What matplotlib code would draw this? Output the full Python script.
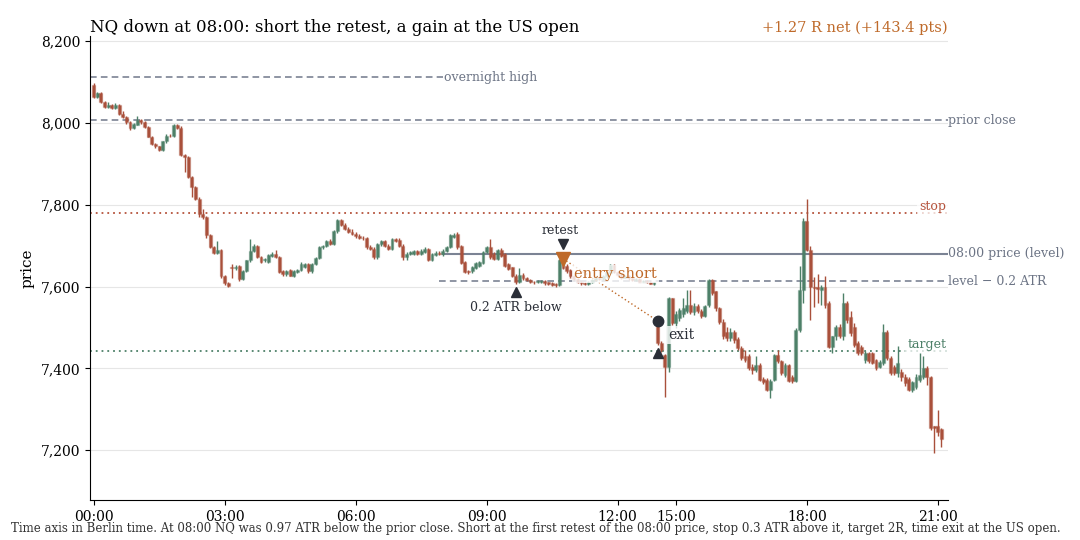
import numpy as np
import pandas as pd
import matplotlib
matplotlib.use("Agg")
import matplotlib.pyplot as plt
from matplotlib.ticker import FuncFormatter

# NQ 5-minute bars, Berlin time (no bars between 12:45 and 14:30)
opens = [8094, 8063, 8073, 8052, 8040, 8045, 8037, 8044, 8022, 8016, 8002, 7988, 7996, 8008, 8002, 7990, 7967, 7948, 7943, 7934,
         7955, 7969, 7968, 7994, 7989, 7922, 7917, 7868, 7843, 7815, 7778, 7770, 7725, 7697, 7683, 7690, 7627, 7609, 7648, 7646,
         7651, 7619, 7639, 7664, 7688, 7700, 7672, 7664, 7660, 7676, 7680, 7672, 7637, 7630, 7640, 7627, 7636, 7641, 7649, 7655,
         7637, 7655, 7670, 7696, 7699, 7712, 7705, 7735, 7763, 7750, 7742, 7734, 7729, 7724, 7720, 7718, 7696, 7693, 7672, 7704,
         7711, 7700, 7692, 7716, 7714, 7700, 7672, 7680, 7680, 7686, 7680, 7684, 7692, 7665, 7678, 7683, 7680, 7688, 7696, 7722,
         7729, 7700, 7660, 7639, 7637, 7645, 7650, 7657, 7684, 7696, 7680, 7668, 7690, 7680, 7654, 7647, 7625, 7611, 7628, 7620,
         7616, 7611, 7610, 7611, 7613, 7610, 7608, 7606, 7604, 7664, 7650, 7640, 7625, 7618, 7612, 7608, 7606, 7611, 7615, 7622,
         7618, 7625, 7632, 7652, 7635, 7628, 7622, 7626, 7620, 7616, 7618, 7612, 7614, 7611, 7607, 7508, 7462, 7433, 7404, 7571,
         7512, 7522, 7532, 7540, 7555, 7538, 7552, 7540, 7528, 7555, 7616, 7588, 7547, 7514, 7490, 7473, 7490, 7471, 7449, 7429,
         7429, 7404, 7396, 7408, 7373, 7371, 7347, 7372, 7433, 7417, 7384, 7408, 7380, 7368, 7494, 7592, 7760, 7690, 7600, 7598,
         7592, 7600, 7559, 7453, 7478, 7502, 7478, 7559, 7525, 7500, 7461, 7453, 7420, 7437, 7437, 7420, 7404, 7412, 7490, 7425,
         7404, 7388, 7392, 7380, 7375, 7347, 7355, 7371, 7380, 7400, 7380, 7258, 7258, 7251]
highs = [8097, 8076, 8075, 8054, 8052, 8047, 8049, 8046, 8030, 8018, 8004, 8000, 8018, 8010, 8004, 7992, 7969, 7950, 7945, 7957,
         7972, 7972, 7997, 7998, 7993, 7925, 7920, 7870, 7846, 7818, 7790, 7772, 7728, 7700, 7712, 7692, 7629, 7611, 7655, 7652,
         7653, 7641, 7666, 7716, 7703, 7702, 7675, 7670, 7680, 7684, 7690, 7675, 7640, 7640, 7642, 7641, 7644, 7660, 7658, 7658,
         7658, 7673, 7699, 7702, 7715, 7716, 7738, 7766, 7765, 7755, 7746, 7740, 7733, 7728, 7724, 7722, 7702, 7696, 7706, 7714,
         7714, 7705, 7720, 7720, 7718, 7703, 7684, 7688, 7690, 7690, 7693, 7696, 7695, 7683, 7686, 7687, 7692, 7699, 7728, 7731,
         7733, 7702, 7662, 7641, 7650, 7660, 7663, 7687, 7699, 7716, 7684, 7693, 7694, 7683, 7657, 7649, 7631, 7645, 7632, 7624,
         7619, 7614, 7616, 7617, 7615, 7612, 7610, 7608, 7668, 7684, 7656, 7643, 7628, 7620, 7614, 7610, 7613, 7618, 7625, 7624,
         7628, 7638, 7655, 7654, 7638, 7630, 7629, 7628, 7622, 7621, 7620, 7617, 7616, 7613, 7612, 7510, 7466, 7436, 7575, 7573,
         7540, 7548, 7571, 7592, 7592, 7560, 7558, 7545, 7556, 7618, 7618, 7590, 7550, 7520, 7500, 7498, 7495, 7476, 7455, 7445,
         7435, 7410, 7430, 7412, 7378, 7376, 7375, 7435, 7445, 7420, 7412, 7410, 7384, 7498, 7650, 7768, 7813, 7700, 7624, 7630,
         7605, 7625, 7565, 7480, 7506, 7508, 7585, 7565, 7540, 7512, 7466, 7458, 7442, 7440, 7440, 7424, 7420, 7508, 7495, 7430,
         7408, 7455, 7398, 7385, 7378, 7370, 7385, 7438, 7430, 7405, 7382, 7258, 7298, 7255]
lows = [8062, 8061, 8050, 8038, 8038, 8035, 8035, 8020, 8012, 7998, 7982, 7985, 7994, 7998, 7988, 7965, 7946, 7940, 7931, 7931,
        7952, 7965, 7965, 7986, 7920, 7880, 7865, 7818, 7812, 7770, 7765, 7720, 7694, 7680, 7680, 7622, 7605, 7600, 7620, 7640,
        7614, 7616, 7636, 7660, 7685, 7670, 7658, 7660, 7657, 7672, 7670, 7632, 7627, 7627, 7625, 7624, 7634, 7638, 7646, 7634,
        7634, 7652, 7667, 7693, 7696, 7702, 7702, 7732, 7748, 7738, 7730, 7725, 7720, 7716, 7715, 7692, 7690, 7668, 7668, 7700,
        7698, 7690, 7690, 7709, 7698, 7664, 7664, 7677, 7678, 7677, 7678, 7682, 7662, 7662, 7675, 7677, 7676, 7685, 7694, 7718,
        7692, 7654, 7632, 7631, 7634, 7642, 7647, 7654, 7681, 7668, 7665, 7665, 7673, 7648, 7640, 7624, 7607, 7609, 7617, 7613,
        7608, 7607, 7608, 7609, 7605, 7603, 7601, 7600, 7602, 7642, 7633, 7622, 7615, 7609, 7605, 7603, 7604, 7609, 7613, 7615,
        7616, 7622, 7630, 7633, 7625, 7619, 7620, 7617, 7613, 7614, 7610, 7610, 7608, 7606, 7605, 7458, 7440, 7330, 7390, 7505,
        7498, 7515, 7525, 7535, 7532, 7530, 7535, 7522, 7525, 7550, 7580, 7540, 7508, 7472, 7468, 7466, 7462, 7444, 7420, 7415,
        7396, 7385, 7392, 7368, 7362, 7344, 7327, 7368, 7412, 7384, 7380, 7366, 7365, 7366, 7490, 7560, 7688, 7518, 7551, 7560,
        7555, 7548, 7450, 7437, 7470, 7474, 7470, 7512, 7480, 7452, 7432, 7432, 7412, 7414, 7410, 7395, 7400, 7408, 7420, 7384,
        7384, 7380, 7370, 7356, 7345, 7343, 7350, 7366, 7375, 7360, 7250, 7192, 7235, 7208]
closes = [8063, 8073, 8052, 8040, 8045, 8037, 8044, 8022, 8016, 8002, 7988, 7998, 8008, 8002, 7990, 7967, 7948, 7943, 7934, 7955,
          7969, 7968, 7994, 7989, 7922, 7917, 7868, 7843, 7815, 7778, 7770, 7725, 7697, 7683, 7690, 7627, 7609, 7602, 7646, 7648,
          7619, 7639, 7664, 7688, 7700, 7672, 7660, 7668, 7678, 7680, 7672, 7635, 7630, 7638, 7627, 7639, 7641, 7655, 7655, 7637,
          7655, 7670, 7696, 7699, 7712, 7705, 7735, 7763, 7750, 7742, 7734, 7729, 7724, 7720, 7718, 7696, 7693, 7672, 7704, 7711,
          7700, 7692, 7716, 7711, 7700, 7672, 7680, 7684, 7686, 7680, 7688, 7692, 7665, 7680, 7683, 7680, 7688, 7696, 7725, 7727,
          7696, 7657, 7636, 7635, 7647, 7657, 7660, 7684, 7696, 7672, 7668, 7690, 7676, 7651, 7643, 7627, 7611, 7628, 7620, 7616,
          7611, 7610, 7613, 7614, 7608, 7606, 7604, 7603, 7664, 7645, 7637, 7625, 7618, 7612, 7608, 7606, 7611, 7615, 7622, 7618,
          7625, 7636, 7652, 7635, 7628, 7622, 7626, 7620, 7616, 7618, 7612, 7614, 7610, 7607, 7610, 7462, 7445, 7404, 7571, 7510,
          7533, 7542, 7548, 7555, 7538, 7552, 7540, 7528, 7552, 7616, 7584, 7547, 7514, 7478, 7473, 7490, 7469, 7449, 7425, 7420,
          7400, 7396, 7408, 7371, 7367, 7347, 7370, 7433, 7417, 7388, 7408, 7370, 7368, 7494, 7592, 7760, 7690, 7600, 7596, 7595,
          7600, 7555, 7453, 7478, 7502, 7478, 7559, 7518, 7486, 7457, 7437, 7437, 7437, 7418, 7412, 7400, 7416, 7490, 7425, 7388,
          7388, 7414, 7380, 7363, 7347, 7367, 7380, 7384, 7400, 7380, 7253, 7253, 7245, 7226]

times = list(pd.date_range("2024-01-01 00:00", "2024-01-01 12:45", freq="5min")) + \
        list(pd.date_range("2024-01-01 14:30", "2024-01-01 21:05", freq="5min"))

prior_close = 8007
overnight_high = 8112
atr = 337
level = 7680
entry_price = 7668
exit_price = 7516
exit_time = "14:35"
net_r = 1.27
net_pts = 143.4

stop = level + 0.3 * atr
trigger = level - 0.2 * atr
target = entry_price - 2 * (stop - entry_price)

RED = "#a9503b"
GREEN = "#4d8068"
SLATE = "#7b8394"
LABEL = "#6c7485"
ORANGE = "#bf6a2a"
DARK = "#2a2e37"

plt.rcParams["font.family"] = "DejaVu Serif"

o, h, l, c = map(np.array, (opens, highs, lows, closes))
x = np.arange(len(c))
hhmm = [t.strftime("%H:%M") for t in times]
i08 = hhmm.index("08:00")
i_trig = next(i for i in range(i08, len(c)) if l[i] < trigger)
i_retest = next(i for i in range(i_trig + 1, len(c)) if h[i] >= level)
i_exit = hhmm.index(exit_time)

fig = plt.figure(figsize=(10.8, 5.4), dpi=100)
ax = fig.add_axes([0.0833, 0.0741, 0.7945, 0.8593])

up = c >= o
cols = np.where(up, GREEN, RED)
edge = [matplotlib.colors.to_rgba(cc, 0.3) for cc in cols]
ax.vlines(x, l, h, colors=cols, lw=1.0, zorder=3)
ax.bar(x, np.maximum(np.abs(c - o), 1.5), bottom=np.minimum(o, c), width=0.8,
       color=cols, edgecolor=edge, linewidth=1.0, zorder=4)

# levels
ax.plot([x[0] - 1, i08], [overnight_high] * 2, color=SLATE, lw=1.2, ls=(0, (4, 2.5)), zorder=2)
ax.axhline(prior_close, color=SLATE, lw=1.2, ls=(0, (4, 2.5)), zorder=2)
ax.axhline(stop, color="#b5533c", lw=1.3, ls=(0, (1, 2.2)), zorder=2)
ax.plot([i08, x[-1] + 2], [level] * 2, color=SLATE, lw=1.5, zorder=2)
ax.plot([i08 - 1, x[-1] + 2], [trigger] * 2, color=SLATE, lw=1.2, ls=(0, (4, 2.5)), zorder=2)
ax.axhline(target, color="#4d8068", lw=1.3, ls=(0, (1, 2.2)), zorder=2)

ax.annotate("overnight high", (i08, overnight_high), xytext=(1, 0), textcoords="offset points",
            ha="left", va="center", fontsize=9, color=LABEL)
for val, txt in [(prior_close, "prior close"), (level, "08:00 price (level)"), (trigger, "level \u2212 0.2 ATR")]:
    ax.text(1.0, val, txt, transform=ax.get_yaxis_transform(), ha="left", va="center",
            fontsize=9, color=LABEL, clip_on=False)
box = dict(boxstyle="square,pad=0.15", fc="white", ec="none", alpha=0.75)
ax.text(0.998, stop, "stop", transform=ax.get_yaxis_transform(), ha="right", va="bottom",
        fontsize=9, color="#b5533c", bbox=box, zorder=6)
ax.text(0.998, target, "target", transform=ax.get_yaxis_transform(), ha="right", va="bottom",
        fontsize=9, color="#4d8068", bbox=box, zorder=6)

# trade markers
off = 20
ax.plot(i_trig, l[i_trig] - off, marker="^", ms=7, color=DARK, zorder=7)
ax.annotate("0.2 ATR below", (i_trig, l[i_trig] - off), xytext=(0, -11), textcoords="offset points",
            ha="center", va="center", fontsize=9, color=DARK)
ax.plot(i_retest, h[i_retest] + off, marker="v", ms=7, color=DARK, zorder=7)
ax.annotate("retest", (i_retest, h[i_retest] + off), xytext=(-2, 10), textcoords="offset points",
            ha="center", va="center", fontsize=9, color=DARK)
ax.plot([i_retest, i_exit], [entry_price, exit_price], color=ORANGE, lw=1, ls=(0, (1, 1.8)), zorder=6)
ax.plot(i_retest, entry_price, marker="v", ms=10, color=ORANGE, zorder=8)
ax.annotate("entry short", (i_retest, entry_price), xytext=(8, -11), textcoords="offset points",
            ha="left", va="center", fontsize=10.5, color=ORANGE,
            bbox=dict(boxstyle="square,pad=0.15", fc="white", ec="none", alpha=0.8), zorder=7)
ax.plot(i_exit, exit_price, marker="o", ms=7.5, color=DARK, zorder=8)
ax.annotate("exit", (i_exit, exit_price), xytext=(8, -10), textcoords="offset points",
            ha="left", va="center", fontsize=10, color=DARK,
            bbox=dict(boxstyle="square,pad=0.15", fc="white", ec="none", alpha=0.8), zorder=7)
ax.plot(i_exit, l[i_exit] - off, marker="^", ms=7, color=DARK, zorder=7)

# axes styling
ax.set_xlim(-1, len(c) + 0.8)
ax.set_ylim(7078, 8213)
ticks = [i for i, t in enumerate(times) if t.minute == 0 and t.hour % 3 == 0]
ax.set_xticks(ticks)
ax.set_xticklabels([hhmm[i] for i in ticks], fontsize=10)
ax.set_yticks(np.arange(7200, 8201, 200))
ax.yaxis.set_major_formatter(FuncFormatter(lambda v, _: f"{v:,.0f}"))
ax.tick_params(axis="y", labelsize=10)
ax.grid(axis="y", color="#e6e6e6", lw=0.8, zorder=0)
ax.set_axisbelow(True)
for s in ("top", "right"):
    ax.spines[s].set_visible(False)
ax.set_ylabel("price", fontsize=11)

ax.set_title("NQ down at 08:00: short the retest, a gain at the US open", loc="left", fontsize=12, pad=3)
ax.set_title(f"+{net_r:.2f} R net (+{net_pts:.1f} pts)", loc="right", fontsize=10.5, color=ORANGE, pad=3)
fig.text(0.496, 0.022, "Time axis in Berlin time. At 08:00 NQ was 0.97 ATR below the prior close. Short at the first "
         "retest of the 08:00 price, stop 0.3 ATR above it, target 2R, time exit at the US open.",
         ha="center", va="center", fontsize=8.5, color="#333333")

fig.savefig("out.png", dpi=100)
